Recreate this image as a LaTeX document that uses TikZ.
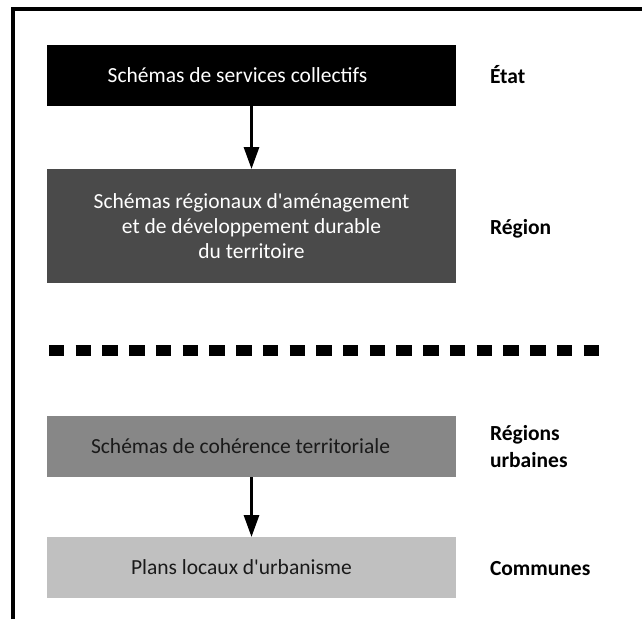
\documentclass[tikz,border=0pt]{standalone}
\usepackage{fontspec}
\setmainfont{Carlito}[Ligatures=TeXOff]
\usetikzlibrary{arrows.meta}
\definecolor{boxdark}{HTML}{4A4A4A}
\definecolor{boxmid}{HTML}{878787}
\definecolor{boxlight}{HTML}{C0C0C0}
\definecolor{inktext}{HTML}{1A1A1A}
\begin{document}
\begin{tikzpicture}[x=1pt,y=-1pt,
  every node/.style={inner sep=0pt, outer sep=0pt},
  box/.style={rectangle, anchor=north west, minimum width=409pt,
    font=\fontsize{21.5}{25}\selectfont},
  oneline/.style={text height=14pt, text depth=0pt},
  lbl/.style={anchor=base west, align=left,
    font=\fontsize{21.5}{27}\selectfont\bfseries},
  link/.style={line width=3pt, -{Triangle[width=15pt,length=22pt]}},
  sep/.style={line width=11pt, dash pattern=on 15.4pt off 11.33pt},
  frame/.style={line width=4pt}]
\useasboundingbox (0,0) rectangle (642,619);
% frame
\coordinate (fa) at (13,619);
\coordinate (fb) at (13,9);
\coordinate (fc) at (642,9);
\draw[frame] (fa) -- (fb) -- (fc);
% boxes
\node[box, oneline, fill=black, text=white, minimum height=61pt] (b1) at (47,45)
  {Schémas de services collectifs\kern28pt};
\node[box, fill=boxdark, text=white, minimum height=114pt, align=center] (b2) at (47,169)
  {Schémas régionaux d'aménagement\\et de développement durable\\du territoire};
\node[box, oneline, fill=boxmid, text=inktext, minimum height=61pt] (b3) at (47,416)
  {Schémas de cohérence territoriale\kern22pt};
\node[box, oneline, fill=boxlight, text=inktext, minimum height=61pt] (b4) at (47,537)
  {Plans locaux d'urbanisme\kern20pt};
% arrows
\draw[link] (b1) -- (b2);
\draw[link] (b3) -- (b4);
% separator
\coordinate (sa) at (49,350);
\coordinate (sb) at (599,350);
\draw[sep] (sa) -- (sb);
% labels
\node[lbl] (l1) at (490,83) {État};
\node[lbl] (l2) at (490,234) {Région};
\node[lbl] (l3) at (490,467) {Régions\\urbaines};
\node[lbl] (l4) at (490,575) {Communes};
\end{tikzpicture}
\end{document}
